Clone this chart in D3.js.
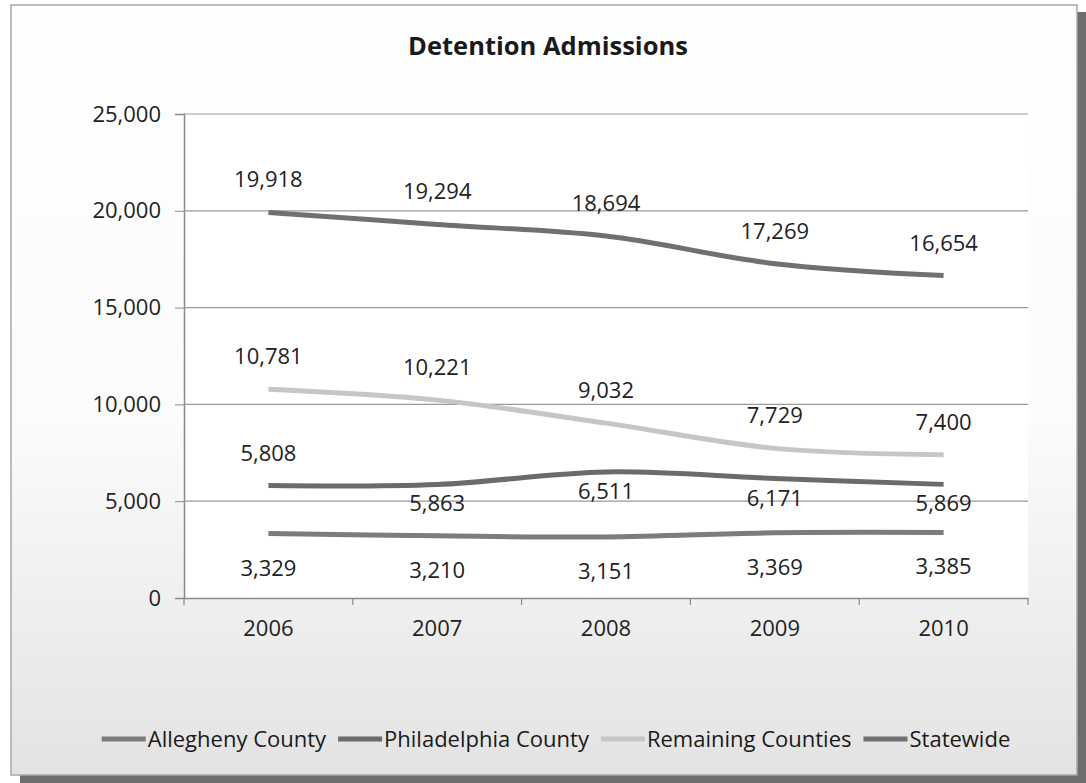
<!DOCTYPE html>
<html>
<head>
<meta charset="utf-8">
<script src="https://cdn.jsdelivr.net/npm/d3@7"></script>
<style>
  html, body { margin: 0; padding: 0; background: #ffffff; }
  svg { display: block; font-family: "Open Sans", "Noto Sans", sans-serif; }
</style>
</head>
<body>
<svg id="chart" width="1086" height="783"></svg>
<script>
// chart values
var years = ['2006', '2007', '2008', '2009', '2010'];
var allegheny = [3329, 3210, 3151, 3369, 3385];
var philadelphia = [5808, 5863, 6511, 6171, 5869];
var remaining = [10781, 10221, 9032, 7729, 7400];
var statewide = [19918, 19294, 18694, 17269, 16654];
var yTicks = [0, 5000, 10000, 15000, 20000, 25000];
var seriesNames = ['Allegheny County', 'Philadelphia County', 'Remaining Counties', 'Statewide'];

// where each data label sits relative to its point
var allegLabels = ['below', 'below', 'below', 'below', 'below'];
var philaLabels = ['above', 'below', 'below', 'below', 'below'];
var remainLabels = ['above', 'above', 'above', 'above', 'above'];
var stateLabels = ['above', 'above', 'above', 'above', 'above'];

var series = [
  { name: seriesNames[0], values: allegheny, labels: allegLabels, color: '#7c7c7c', below: 42 },
  { name: seriesNames[1], values: philadelphia, labels: philaLabels, color: '#6b6b6b', below: 27 },
  { name: seriesNames[2], values: remaining, labels: remainLabels, color: '#c6c6c6', below: 27 },
  { name: seriesNames[3], values: statewide, labels: stateLabels, color: '#707070', below: 27 }
];

var svg = d3.select('#chart');
var width = 1086, height = 783;
var plot = { left: 184, right: 1028, top: 114, bottom: 598 };

// ===== background / frame =====
var defs = svg.append('defs');
var grad = defs.append('linearGradient')
  .attr('id', 'bg')
  .attr('x1', 0).attr('y1', 0).attr('x2', 0).attr('y2', 1);
grad.append('stop').attr('offset', '0%').attr('stop-color', '#ffffff');
grad.append('stop').attr('offset', '55%').attr('stop-color', '#fbfbfb');
grad.append('stop').attr('offset', '100%').attr('stop-color', '#e3e3e3');

// drop shadow on right and bottom
svg.append('rect')
  .attr('x', 20).attr('y', 12)
  .attr('width', width - 20).attr('height', height - 12)
  .attr('fill', '#6e6e6e');
svg.append('rect')
  .attr('x', 11).attr('y', 5)
  .attr('width', 1066).attr('height', 770)
  .attr('fill', 'url(#bg)')
  .attr('stroke', '#a8a8a8')
  .attr('stroke-width', 1.5);

svg.append('rect')
  .attr('x', plot.left).attr('y', plot.top)
  .attr('width', plot.right - plot.left).attr('height', plot.bottom - plot.top)
  .attr('fill', '#ffffff');

// ===== scales =====
var x = d3.scaleBand()
  .domain(years)
  .range([plot.left, plot.right]);
var cx = function (d) { return x(d) + x.bandwidth() / 2; };

var y = d3.scaleLinear()
  .domain([0, 25000])
  .range([plot.bottom, plot.top]);

var fmt = d3.format(',');

// ===== y axis + gridlines =====
var yAxis = d3.axisLeft(y)
  .tickValues(yTicks)
  .tickFormat(fmt)
  .tickSize(9)
  .tickPadding(14);

var yG = svg.append('g')
  .attr('transform', 'translate(' + plot.left + ',0)')
  .call(yAxis);
yG.select('.domain').attr('stroke', '#8a8a8a').attr('stroke-width', 1.5);
yG.selectAll('.tick line').attr('stroke', '#8a8a8a');
yG.selectAll('.tick text')
  .attr('font-size', 22)
  .attr('fill', '#222')
  .style('font-family', '"Open Sans", sans-serif');

svg.append('g')
  .selectAll('line')
  .data(yTicks.filter(function (d) { return d > 0; }))
  .enter()
  .append('line')
  .attr('x1', plot.left).attr('x2', plot.right)
  .attr('y1', function (d) { return y(d); })
  .attr('y2', function (d) { return y(d); })
  .attr('stroke', '#9a9a9a')
  .attr('stroke-width', 1.2);

// ===== x axis =====
var xAxis = d3.axisBottom(x)
  .tickSize(0)
  .tickPadding(22);

var xG = svg.append('g')
  .attr('transform', 'translate(0,' + plot.bottom + ')')
  .call(xAxis);
xG.select('.domain').attr('stroke', '#8a8a8a').attr('stroke-width', 1.5);
xG.selectAll('.tick text')
  .attr('font-size', 22)
  .attr('fill', '#222')
  .style('font-family', '"Open Sans", sans-serif');

// tick marks sit between the categories
var edges = years.map(function (d) { return x(d); }).concat([plot.right]);
svg.append('g')
  .selectAll('line')
  .data(edges)
  .enter()
  .append('line')
  .attr('x1', function (d) { return d; })
  .attr('x2', function (d) { return d; })
  .attr('y1', plot.bottom)
  .attr('y2', plot.bottom + 7)
  .attr('stroke', '#8a8a8a')
  .attr('stroke-width', 1.2);

// ===== lines =====
var line = d3.line()
  .x(function (d, i) { return cx(years[i]); })
  .y(function (d) { return y(d); })
  .curve(d3.curveCatmullRom.alpha(0.5));

svg.append('g')
  .selectAll('path')
  .data(series)
  .enter()
  .append('path')
  .attr('d', function (s) { return line(s.values); })
  .attr('fill', 'none')
  .attr('stroke', function (s) { return s.color; })
  .attr('stroke-width', 5)
  .attr('stroke-linecap', 'butt')
  .attr('stroke-linejoin', 'round');

// ===== data labels =====
series.forEach(function (s) {
  svg.append('g')
    .selectAll('text')
    .data(s.values)
    .enter()
    .append('text')
    .attr('x', function (d, i) { return cx(years[i]); })
    .attr('y', function (d, i) {
      return s.labels[i] === 'above' ? y(d) - 25 : y(d) + s.below;
    })
    .attr('text-anchor', 'middle')
    .attr('font-size', 22)
    .attr('fill', '#222')
    .text(function (d) { return fmt(d); });
});

// ===== title =====
svg.append('text')
  .attr('x', 548)
  .attr('y', 55)
  .attr('text-anchor', 'middle')
  .attr('font-size', 25.5)
  .attr('font-weight', 'bold')
  .attr('fill', '#1a1a1a')
  .text('Detention Admissions');

// ===== legend =====
var legend = svg.append('g');
var lx = 0;
series.forEach(function (s) {
  legend.append('line')
    .attr('x1', lx).attr('x2', lx + 44)
    .attr('y1', 0).attr('y2', 0)
    .attr('stroke', s.color)
    .attr('stroke-width', 5);
  var t = legend.append('text')
    .attr('x', lx + 46)
    .attr('y', 8)
    .attr('font-size', 22)
    .attr('fill', '#1a1a1a')
    .text(s.name);
  lx += 46 + t.node().getComputedTextLength() + 12;
});
var legendW = lx - 12;
legend.attr('transform', 'translate(' + (556 - legendW / 2) + ',739)');
</script>
</body>
</html>
